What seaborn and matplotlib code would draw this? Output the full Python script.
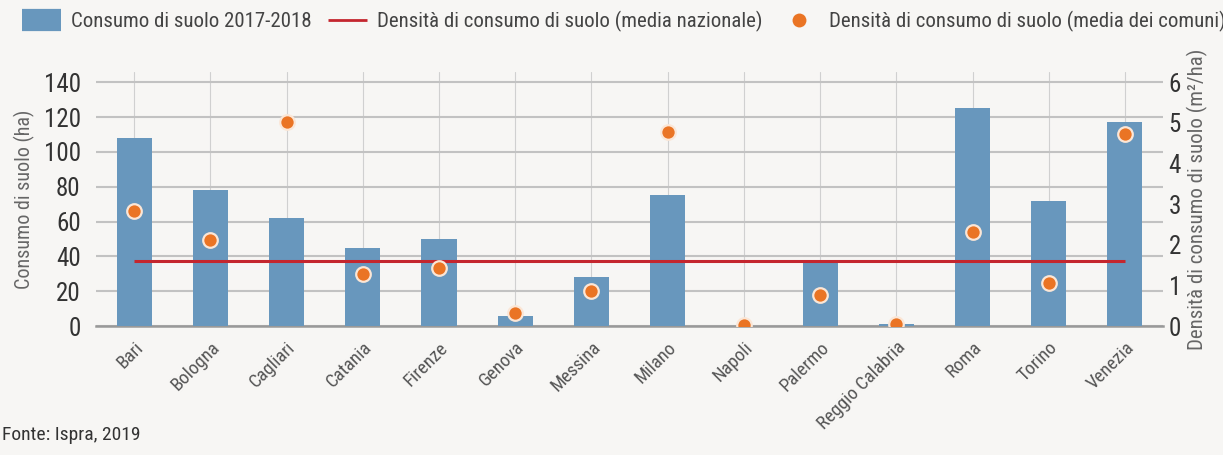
import matplotlib
matplotlib.use("Agg")
import matplotlib.pyplot as plt
from matplotlib import font_manager
import seaborn as sns
import pandas as pd
from matplotlib.lines import Line2D

cities = ["Bari", "Bologna", "Cagliari", "Catania", "Firenze", "Genova", "Messina",
          "Milano", "Napoli", "Palermo", "Reggio Calabria", "Roma", "Torino", "Venezia"]
consumo_ha = [108, 78, 62, 45, 50, 6, 28, 75, 0, 38, 1, 125, 72, 117]
densita_comuni = [2.84, 2.13, 5.03, 1.27, 1.44, 0.33, 0.86, 4.78, 0.02, 0.77, 0.04, 2.32, 1.06, 4.74]
densita_nazionale = 1.59
left_ticks = [0, 20, 40, 60, 80, 100, 120, 140]
right_ticks = [0, 1, 2, 3, 4, 5, 6]

sns.set_theme(style="white")
names = {f.name for f in font_manager.fontManager.ttflist}
fam = [n for n in ["Liberation Sans Narrow", "Roboto Condensed", "Liberation Sans"] if n in names]
plt.rcParams['font.family'] = fam + ['DejaVu Sans']

BG = "#f7f6f4"
BAR = "#6897bd"
ORANGE = "#ea7424"
RED = "#c4262e"
GRID = "#c2c2c2"
TXT = "#333333"
LTXT = "#666666"

df = pd.DataFrame({"city": cities, "consumo": consumo_ha, "dens": densita_comuni})

fig = plt.figure(figsize=(12.23, 4.55), dpi=100, facecolor=BG)
ax = fig.add_axes([0.0785, 0.2835, 0.8725, 0.5585])
ax.set_facecolor(BG)

sns.barplot(data=df, x="city", y="consumo", color=BAR, width=0.46, saturation=1, ax=ax,
            zorder=3, linewidth=0)
ax.set_ylim(0, 146)
ax.set_yticks(left_ticks)
ax.set_xlim(-0.5, len(cities) - 0.5)
ax.yaxis.grid(True, color=GRID, lw=1.5, zorder=0)
ax.xaxis.grid(True, color="#d0d0d0", lw=0.8, zorder=0)
ax.set_axisbelow(True)
for s in ["top", "right", "left"]:
    ax.spines[s].set_visible(False)
ax.spines["bottom"].set_color("#999999")
ax.spines["bottom"].set_linewidth(1.8)
ax.tick_params(axis="both", length=0)
ax.tick_params(axis="y", labelsize=18, labelcolor=TXT, pad=11)
ax.set_xticks(range(len(cities)))
ax.set_xticklabels(cities, rotation=45, ha="right", rotation_mode="anchor",
                   fontsize=13.5, color="#555555")
ax.tick_params(axis="x", pad=9)
ax.set_xlabel("")
ax.set_ylabel("Consumo di suolo (ha)", fontsize=14.5, color=LTXT, labelpad=6)

ax2 = ax.twinx()
ax2.set_ylim(0, 146 / (140 / 6))
ax2.set_yticks(right_ticks)
for s in ["top", "right", "left", "bottom"]:
    ax2.spines[s].set_visible(False)
ax2.tick_params(axis="y", length=0, labelsize=18, labelcolor=TXT, pad=4)
ax2.set_ylabel("Densità di consumo di suolo (m²/ha)", fontsize=15, color=LTXT, labelpad=4)

ax2.plot([0, len(cities) - 1], [densita_nazionale, densita_nazionale], color=RED, lw=2.2,
         zorder=4, solid_capstyle="butt")
sns.scatterplot(data=df, x="city", y="dens", color=ORANGE, s=110, edgecolor="#fbe6d6",
                linewidth=1.6, ax=ax2, zorder=5, legend=False)
ax2.set_xlim(-0.5, len(cities) - 0.5)
ax2.set_xlabel("")

handles = [
    Line2D([0], [0], color=BAR, lw=16, solid_capstyle="butt", label="Consumo di suolo 2017-2018"),
    Line2D([0], [0], color=RED, lw=2, solid_capstyle="butt",
           label="Densità di consumo di suolo (media nazionale)"),
    Line2D([0], [0], marker="o", color="none", markerfacecolor=ORANGE, markeredgecolor="none",
           markersize=10, label="Densità di consumo di suolo (media dei comuni)"),
]
fig.legend(handles=handles, loc="center", bbox_to_anchor=(0.510, 0.953), ncol=3, frameon=False,
           fontsize=15, labelcolor="#444444", handlelength=1.85, columnspacing=0.8,
           handletextpad=0.5)

fig.text(0.002, 0.025, "Fonte: Ispra, 2019", fontsize=14, color="#333333", ha="left", va="bottom")

fig.savefig("out.png", dpi=100, facecolor=BG)
